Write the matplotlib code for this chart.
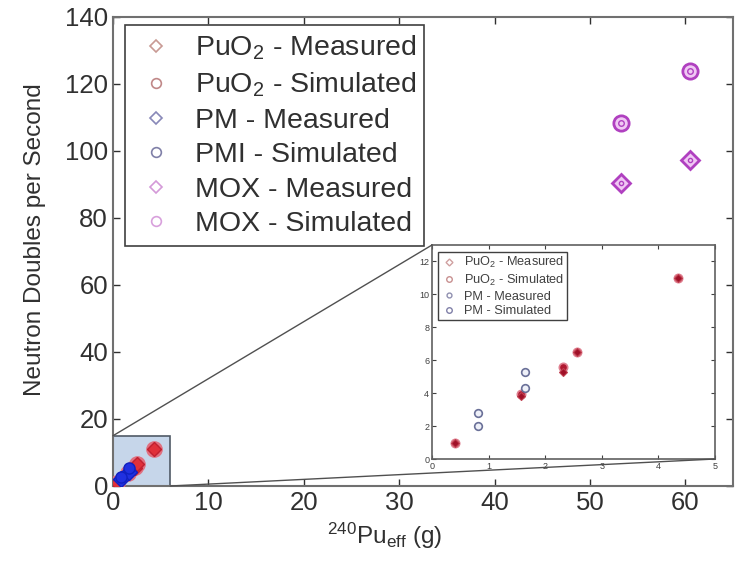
import matplotlib
matplotlib.use("Agg")
import matplotlib.pyplot as plt
from matplotlib.patches import Rectangle, ConnectionPatch
from matplotlib.lines import Line2D

plt.rcParams['font.family'] = ['Liberation Sans', 'DejaVu Sans']
plt.rcParams['mathtext.fontset'] = 'custom'
plt.rcParams['mathtext.rm'] = 'Liberation Sans'
plt.rcParams['mathtext.it'] = 'Liberation Sans:italic'

# ---- data ----
puo2_meas_x = [0.4, 1.57, 2.32, 2.57, 4.34]
puo2_meas_y = [1.0, 3.8, 5.3, 6.5, 11.0]
puo2_sim_x = [0.4, 1.57, 2.32, 2.57, 4.34]
puo2_sim_y = [1.0, 3.95, 5.6, 6.5, 11.0]
pm_meas_x = [0.82, 1.64]
pm_meas_y = [2.0, 4.3]
pm_sim_x = [0.82, 1.64]
pm_sim_y = [2.8, 5.3]
mox_meas_x = [53.3, 60.5]
mox_meas_y = [90.4, 97.3]
mox_sim_x = [53.3, 60.5]
mox_sim_y = [108.4, 123.9]

main_xticks = [0, 10, 20, 30, 40, 50, 60]
main_yticks = [0, 20, 40, 60, 80, 100, 120, 140]
inset_xticks = [0, 1, 2, 3, 4, 5]
inset_yticks = [0, 2, 4, 6, 8, 10, 12]
zoom_box = (0, 0, 6, 15)  # x0, y0, width, height

main_labels = ['PuO$\\mathregular{_2}$ - Measured', 'PuO$\\mathregular{_2}$ - Simulated',
               'PM - Measured', 'PMI - Simulated', 'MOX - Measured', 'MOX - Simulated']
inset_labels = ['PuO$\\mathregular{_2}$ - Measured', 'PuO$\\mathregular{_2}$ - Simulated',
                'PM - Measured', 'PM - Simulated']

fig = plt.figure(figsize=(7.37, 5.61), dpi=100)
ax = fig.add_axes([0.1533, 0.1337, 0.8413, 0.836])
ax.set_xlim(0, 65)
ax.set_ylim(0, 140)
ax.set_xticks(main_xticks)
ax.set_yticks(main_yticks)
ax.tick_params(direction='in', top=True, right=True, labelsize=18.5, length=5,
               colors='#303030', width=1)
for s in ax.spines.values():
    s.set_color('#707070')
    s.set_linewidth(1.5)
ax.set_ylabel('Neutron Doubles per Second', fontsize=17.5, color='#303030')
ax.yaxis.set_label_coords(-0.108, 0.525)
ax.set_xlabel('$\\mathregular{^{240}Pu_{eff}}$ (g)', fontsize=17.5, color='#303030')
ax.xaxis.set_label_coords(0.438, -0.075)

# zoom rectangle
ax.add_patch(Rectangle((zoom_box[0], zoom_box[1]), zoom_box[2], zoom_box[3],
                       facecolor='#c6d6ea', edgecolor='#505a66', linewidth=1.2, zorder=1))

# main points
red_face, red_edge = '#e0303a', '#c02030'
blue_face, blue_edge = '#2030e0', '#1020c0'
ax.plot(puo2_sim_x, puo2_sim_y, 'o', ms=10, mfc=red_face, mec='#e07080', mew=2, zorder=3)
ax.plot(puo2_meas_x, puo2_meas_y, 'D', ms=7, mfc=red_face, mec=red_edge, mew=1, zorder=3)
ax.plot(pm_meas_x, pm_meas_y, 'D', ms=8, mfc=blue_face, mec=blue_edge, mew=1, zorder=4)
ax.plot(pm_sim_x, pm_sim_y, 'o', ms=8, mfc=blue_face, mec=blue_edge, mew=1, zorder=4)
mox_c = '#b040c0'
ax.plot(mox_meas_x, mox_meas_y, 'D', ms=9, mfc='#f0c8f4', mec=mox_c, mew=2, zorder=3)
ax.plot(mox_meas_x, mox_meas_y, 'o', ms=3, mfc='none', mec=mox_c, mew=1, zorder=4)
ax.plot(mox_sim_x, mox_sim_y, 'o', ms=11, mfc='#f0c8f4', mec=mox_c, mew=2, zorder=3)
ax.plot(mox_sim_x, mox_sim_y, 'o', ms=4, mfc='none', mec=mox_c, mew=1, zorder=4)

handles = [
    Line2D([], [], ls='none', marker='D', ms=6, mfc='none', mec='#c89a94', mew=1.2),
    Line2D([], [], ls='none', marker='o', ms=7, mfc='none', mec='#c08888', mew=1.2),
    Line2D([], [], ls='none', marker='D', ms=6, mfc='none', mec='#8888b8', mew=1.2),
    Line2D([], [], ls='none', marker='o', ms=7, mfc='none', mec='#8080a8', mew=1.2),
    Line2D([], [], ls='none', marker='D', ms=6, mfc='none', mec='#d49ad8', mew=1.2),
    Line2D([], [], ls='none', marker='o', ms=7, mfc='none', mec='#d8a0dc', mew=1.2),
]
leg = ax.legend(handles, main_labels, loc='upper left', bbox_to_anchor=(0.019, 0.983),
                fontsize=20.5, frameon=True, fancybox=False, framealpha=1,
                edgecolor='#404040', handlelength=1.6, handletextpad=0.55,
                labelspacing=0.3, borderpad=0.3, borderaxespad=0)
leg.get_frame().set_linewidth(1.2)
for t in leg.get_texts():
    t.set_color('#303030')

# inset
ins = fig.add_axes([0.5862, 0.1818, 0.384, 0.3815])
ins.set_xlim(0, 5)
ins.set_ylim(0, 13)
ins.set_xticks(inset_xticks)
ins.set_yticks(inset_yticks)
ins.tick_params(direction='in', top=True, right=True, labelsize=6.5, length=3,
                colors='#404040', pad=2)
for s in ins.spines.values():
    s.set_color('#606060')
    s.set_linewidth(1.2)
ins.plot(puo2_sim_x, puo2_sim_y, 'o', ms=6, mfc='#b01830', mec='#e08090', mew=1.2, zorder=3)
ins.plot(puo2_meas_x, puo2_meas_y, 'D', ms=4, mfc='#a01028', mec='#c04050', mew=0.8, zorder=3)
ins.plot(pm_meas_x, pm_meas_y, 'o', ms=5.5, mfc='#eef0f8', mec='#6a7098', mew=1.2, zorder=3)
ins.plot(pm_sim_x, pm_sim_y, 'o', ms=5.5, mfc='#eef0f8', mec='#6a7098', mew=1.2, zorder=3)

ih = [
    Line2D([], [], ls='none', marker='D', ms=3.5, mfc='none', mec='#d0a0a0', mew=1),
    Line2D([], [], ls='none', marker='o', ms=4, mfc='none', mec='#c89090', mew=1),
    Line2D([], [], ls='none', marker='o', ms=3.5, mfc='none', mec='#9090b0', mew=1),
    Line2D([], [], ls='none', marker='o', ms=4, mfc='none', mec='#8080a8', mew=1),
]
il = ins.legend(ih, inset_labels, loc='upper left', bbox_to_anchor=(0.02, 0.967),
                fontsize=9.2, frameon=True, fancybox=False, framealpha=1,
                edgecolor='#404040', handlelength=1.3, handletextpad=0.5,
                labelspacing=0.2, borderpad=0.25, borderaxespad=0)
il.get_frame().set_linewidth(1.0)
for t in il.get_texts():
    t.set_color('#404040')

# connector lines
c1 = ConnectionPatch(xyA=(zoom_box[0], zoom_box[1] + zoom_box[3]), coordsA=ax.transData,
                     xyB=(0, 1), coordsB=ins.transAxes, color='#505050', lw=1)
c2 = ConnectionPatch(xyA=(zoom_box[0] + zoom_box[2], zoom_box[1]), coordsA=ax.transData,
                     xyB=(1, 0), coordsB=ins.transAxes, color='#505050', lw=1)
fig.add_artist(c1)
fig.add_artist(c2)

fig.savefig('out.png', dpi=100)
